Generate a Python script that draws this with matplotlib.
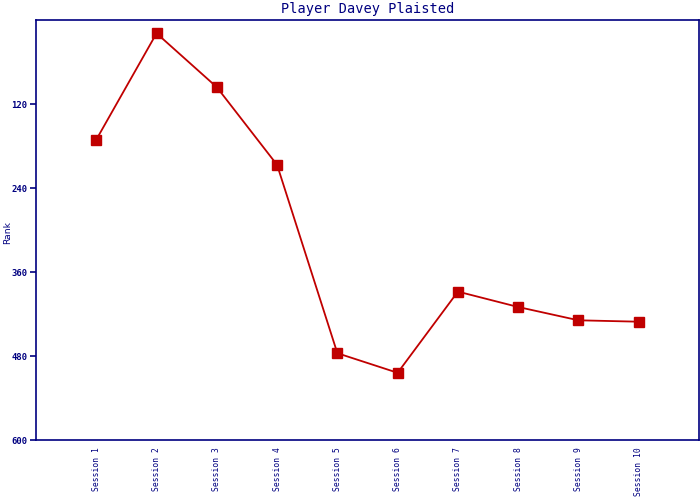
import matplotlib
matplotlib.use("Agg")
import matplotlib.pyplot as plt

# rank per session (lower is better, axis inverted)
SESSOES = ["Session 1", "Session 2", "Session 3", "Session 4", "Session 5",
           "Session 6", "Session 7", "Session 8", "Session 9", "Session 10"]
RANK = [171, 19, 96, 207, 476, 504, 388, 410, 429, 431]
Y_TICKS = [120, 240, 360, 480, 600]

AZUL = "#000080"
VERMELHO = "#C00000"
MONO = "DejaVu Sans Mono"

fig = plt.figure(figsize=(7, 5), dpi=100)
ax = fig.add_axes([36 / 700, 60 / 500, 663 / 700, 420 / 500])

x = list(range(1, len(SESSOES) + 1))
ax.plot(x, RANK, color=VERMELHO, linewidth=1.3, marker="s", markersize=7.5,
        markerfacecolor=VERMELHO, markeredgecolor=VERMELHO)

ax.set_xlim(0, len(SESSOES) + 1)
ax.set_ylim(600, 0)
ax.set_yticks(Y_TICKS)
ax.set_yticklabels([str(v) for v in Y_TICKS], fontfamily=MONO, fontsize=6.4,
                   color=AZUL, fontweight="bold")
ax.set_xticks(x)
ax.set_xticklabels(SESSOES, rotation=90, fontfamily=MONO, fontsize=5.8, color=AZUL,
                   va="top", ha="center")
ax.tick_params(axis="x", length=0, pad=5)
ax.tick_params(axis="y", length=4, width=1.2, color=AZUL, direction="out", pad=2)

for lado in ["left", "right", "top", "bottom"]:
    ax.spines[lado].set_color(AZUL)
    ax.spines[lado].set_linewidth(1.2)

ax.set_title("Player Davey Plaisted", fontfamily=MONO, fontsize=9.8, color=AZUL, pad=5)
# rótulo do eixo y colado na borda esquerda
fig.text(8 / 700, 1 - 232 / 500, "Rank", rotation=90, fontsize=6.6, color=AZUL,
         ha="center", va="center")

fig.savefig("out.png", dpi=100)
